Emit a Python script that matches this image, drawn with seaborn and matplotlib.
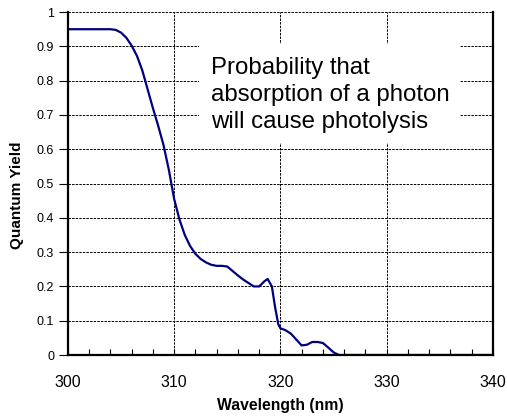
import matplotlib
matplotlib.use("Agg")
import matplotlib.pyplot as plt
import seaborn as sns
import pandas as pd
from matplotlib.patches import Rectangle
from matplotlib.ticker import MultipleLocator, FuncFormatter

# values
wavelength = [300, 301, 302, 303, 304, 304.5, 305, 305.5, 306, 306.5, 307, 307.5,
              308, 308.5, 309, 309.5, 310, 310.5, 311, 311.5, 312, 312.5, 313,
              313.5, 314, 314.5, 315, 315.5, 316, 316.5, 317, 317.5, 318, 318.5,
              318.8, 319.2, 319.5, 319.8, 320, 320.5, 321, 321.5, 322, 322.5,
              323, 323.5, 324, 324.5, 325, 325.5, 330, 335, 340]
quantum_yield = [0.95, 0.95, 0.95, 0.95, 0.95, 0.948, 0.94, 0.925, 0.902, 0.872,
                 0.83, 0.775, 0.72, 0.668, 0.612, 0.54, 0.455, 0.395, 0.35, 0.318,
                 0.295, 0.28, 0.27, 0.263, 0.26, 0.26, 0.258, 0.245, 0.232, 0.22,
                 0.21, 0.2, 0.2, 0.215, 0.222, 0.2, 0.14, 0.09, 0.078, 0.072,
                 0.062, 0.045, 0.028, 0.03, 0.038, 0.038, 0.035, 0.022, 0.008,
                 0.0, 0.0, 0.0, 0.0]
note = "Probability that\nabsorption of a photon\nwill cause photolysis"

sns.set_theme(style="white")
plt.rcParams['font.family'] = ['Liberation Sans', 'DejaVu Sans']
plt.rcParams['text.color'] = 'black'
plt.rcParams['axes.labelcolor'] = 'black'
plt.rcParams['xtick.color'] = 'black'
plt.rcParams['ytick.color'] = 'black'

df = pd.DataFrame({"wl": wavelength, "qy": quantum_yield})

fig = plt.figure(figsize=(5.07, 4.16), dpi=100)
ax = fig.add_axes([0.134, 0.1466, 0.838, 0.8244])

sns.lineplot(data=df, x="wl", y="qy", color="#000080", linewidth=1.6,
             estimator=None, sort=False, ax=ax)

ax.set_xlim(300, 340)
ax.set_ylim(0, 1)
ax.xaxis.set_major_locator(MultipleLocator(10))
ax.xaxis.set_minor_locator(MultipleLocator(2))
ax.yaxis.set_major_locator(MultipleLocator(0.1))
ax.yaxis.set_major_formatter(FuncFormatter(lambda v, p: "%g" % round(v, 2)))

ax.grid(True, which="major", color="black", linestyle=(0, (2.5, 1.2)), linewidth=0.7)
ax.tick_params(axis="x", which="both", direction="in", length=4, width=0.8,
               labelsize=11.5, pad=14.5, bottom=True)
ax.tick_params(axis="y", direction="out", length=6.5, width=0.8,
               labelsize=9, pad=3.5, left=True)

for s in ["left", "bottom", "right"]:
    ax.spines[s].set_color("black")
    ax.spines[s].set_linewidth(1.6)
ax.spines["top"].set_visible(False)

ax.set_xlabel("Wavelength (nm)", fontsize=11.3, fontweight="bold", labelpad=6)
ax.set_ylabel("Quantum Yield", fontsize=11, fontweight="bold")
ax.yaxis.set_label_coords(-0.103, 0.465)

# white box behind the note hides the grid
ax.add_patch(Rectangle((312.33, 0.618), 24.57, 0.289, facecolor="white",
                       edgecolor="none", zorder=2))
ax.text(313.46, 0.662, note, fontsize=17.3, va="baseline", ha="left",
        linespacing=1.3, zorder=3)

fig.savefig("out.png", dpi=100)
